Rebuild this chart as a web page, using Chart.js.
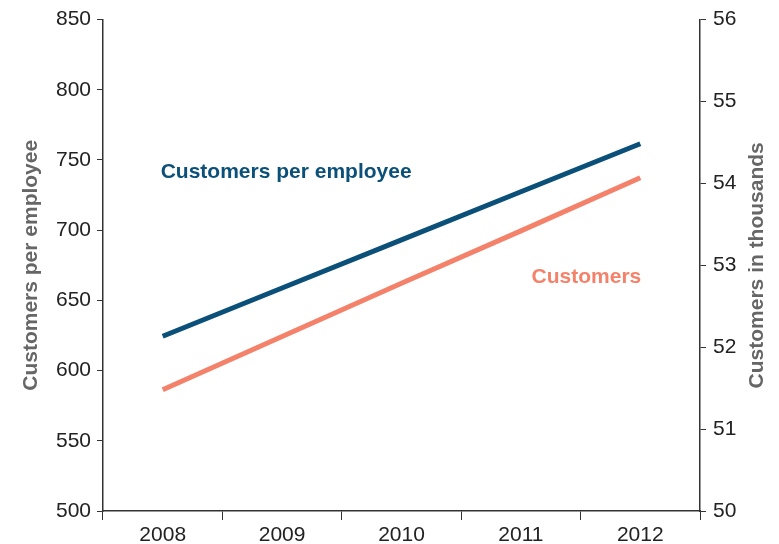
<!DOCTYPE html>
<html>
<head>
<meta charset="utf-8">
<script src="https://cdn.jsdelivr.net/npm/chart.js@4/dist/chart.umd.min.js"></script>
<style>
  html, body { margin: 0; padding: 0; background: #fff; }
  #wrap { width: 779px; height: 544px; }
</style>
</head>
<body>
<div id="wrap"><canvas id="chart" width="779" height="544"></canvas></div>
<script>
  // Data
  const years = ['2008', '2009', '2010', '2011', '2012'];
  const perEmployee = [624.5, 658.8, 693.1, 727.4, 761.6];
  const customersK = [51.48, 52.13, 52.78, 53.42, 54.07];
  const leftTicks = [500, 550, 600, 650, 700, 750, 800, 850];
  const rightTicks = [50, 51, 52, 53, 54, 55, 56];

  const BLUE = '#0b5078';
  const ORANGE = '#f4826a';
  const TITLE_GREY = '#666666';
  const FONT = '"Liberation Sans", Arial, Helvetica, sans-serif';

  // Draw axis titles and series labels
  const labelsPlugin = {
    id: 'labels',
    afterDraw(chart) {
      const ctx = chart.ctx;
      const area = chart.chartArea;
      const x = chart.scales.x;
      const y = chart.scales.y;
      const y1 = chart.scales.y1;
      const midY = (area.top + area.bottom) / 2;

      ctx.save();
      ctx.font = 'bold 21px ' + FONT;
      ctx.fillStyle = TITLE_GREY;
      ctx.textAlign = 'center';
      ctx.textBaseline = 'middle';

      ctx.save();
      ctx.translate(31, midY);
      ctx.rotate(-Math.PI / 2);
      ctx.fillText('Customers per employee', 0, 0);
      ctx.restore();

      ctx.save();
      ctx.translate(757, midY);
      ctx.rotate(-Math.PI / 2);
      ctx.fillText('Customers in thousands', 0, 0);
      ctx.restore();

      // series labels
      ctx.textAlign = 'left';
      ctx.fillStyle = BLUE;
      ctx.fillText('Customers per employee', x.getPixelForValue(0) - 2, y.getPixelForValue(741));
      ctx.textAlign = 'right';
      ctx.fillStyle = ORANGE;
      ctx.fillText('Customers', x.getPixelForValue(4) + 1, y1.getPixelForValue(52.85));
      ctx.restore();
    }
  };

  const tickFont = { family: FONT, size: 21 };

  new Chart(document.getElementById('chart'), {
    type: 'line',
    data: {
      labels: years,
      datasets: [
        {
          label: 'Customers per employee',
          data: perEmployee,
          yAxisID: 'y',
          borderColor: BLUE,
          borderWidth: 5,
          pointRadius: 0,
          tension: 0,
          borderCapStyle: 'butt'
        },
        {
          label: 'Customers',
          data: customersK,
          yAxisID: 'y1',
          borderColor: ORANGE,
          borderWidth: 5,
          pointRadius: 0,
          tension: 0,
          borderCapStyle: 'butt'
        }
      ]
    },
    options: {
      responsive: false,
      animation: false,
      layout: { padding: { top: 19, left: 0, right: 0, bottom: 0 } },
      plugins: {
        legend: { display: false },
        tooltip: { enabled: false }
      },
      scales: {
        x: {
          offset: true,
          grid: {
            offset: true,
            drawOnChartArea: false,
            drawTicks: true,
            tickLength: 9,
            color: '#333'
          },
          border: { display: true, color: '#333', width: 1.5 },
          ticks: { color: '#222', font: tickFont, padding: 3, maxRotation: 0 },
          afterFit(scale) { scale.height = 33; }
        },
        y: {
          position: 'left',
          min: 500,
          max: 850,
          afterBuildTicks(scale) { scale.ticks = leftTicks.map(v => ({ value: v })); },
          grid: {
            drawOnChartArea: false,
            tickLength: 6,
            color: '#333'
          },
          border: { display: true, color: '#333', width: 1.5 },
          ticks: { color: '#222', font: tickFont, padding: 6 },
          afterFit(scale) { scale.width = 103; }
        },
        y1: {
          position: 'right',
          min: 50,
          max: 56,
          afterBuildTicks(scale) { scale.ticks = rightTicks.map(v => ({ value: v })); },
          grid: {
            drawOnChartArea: false,
            tickLength: 6,
            color: '#333'
          },
          border: { display: true, color: '#333', width: 1.5 },
          ticks: { color: '#222', font: tickFont, padding: 7 },
          afterFit(scale) { scale.width = 79; }
        }
      }
    },
    plugins: [labelsPlugin]
  });
</script>
</body>
</html>
